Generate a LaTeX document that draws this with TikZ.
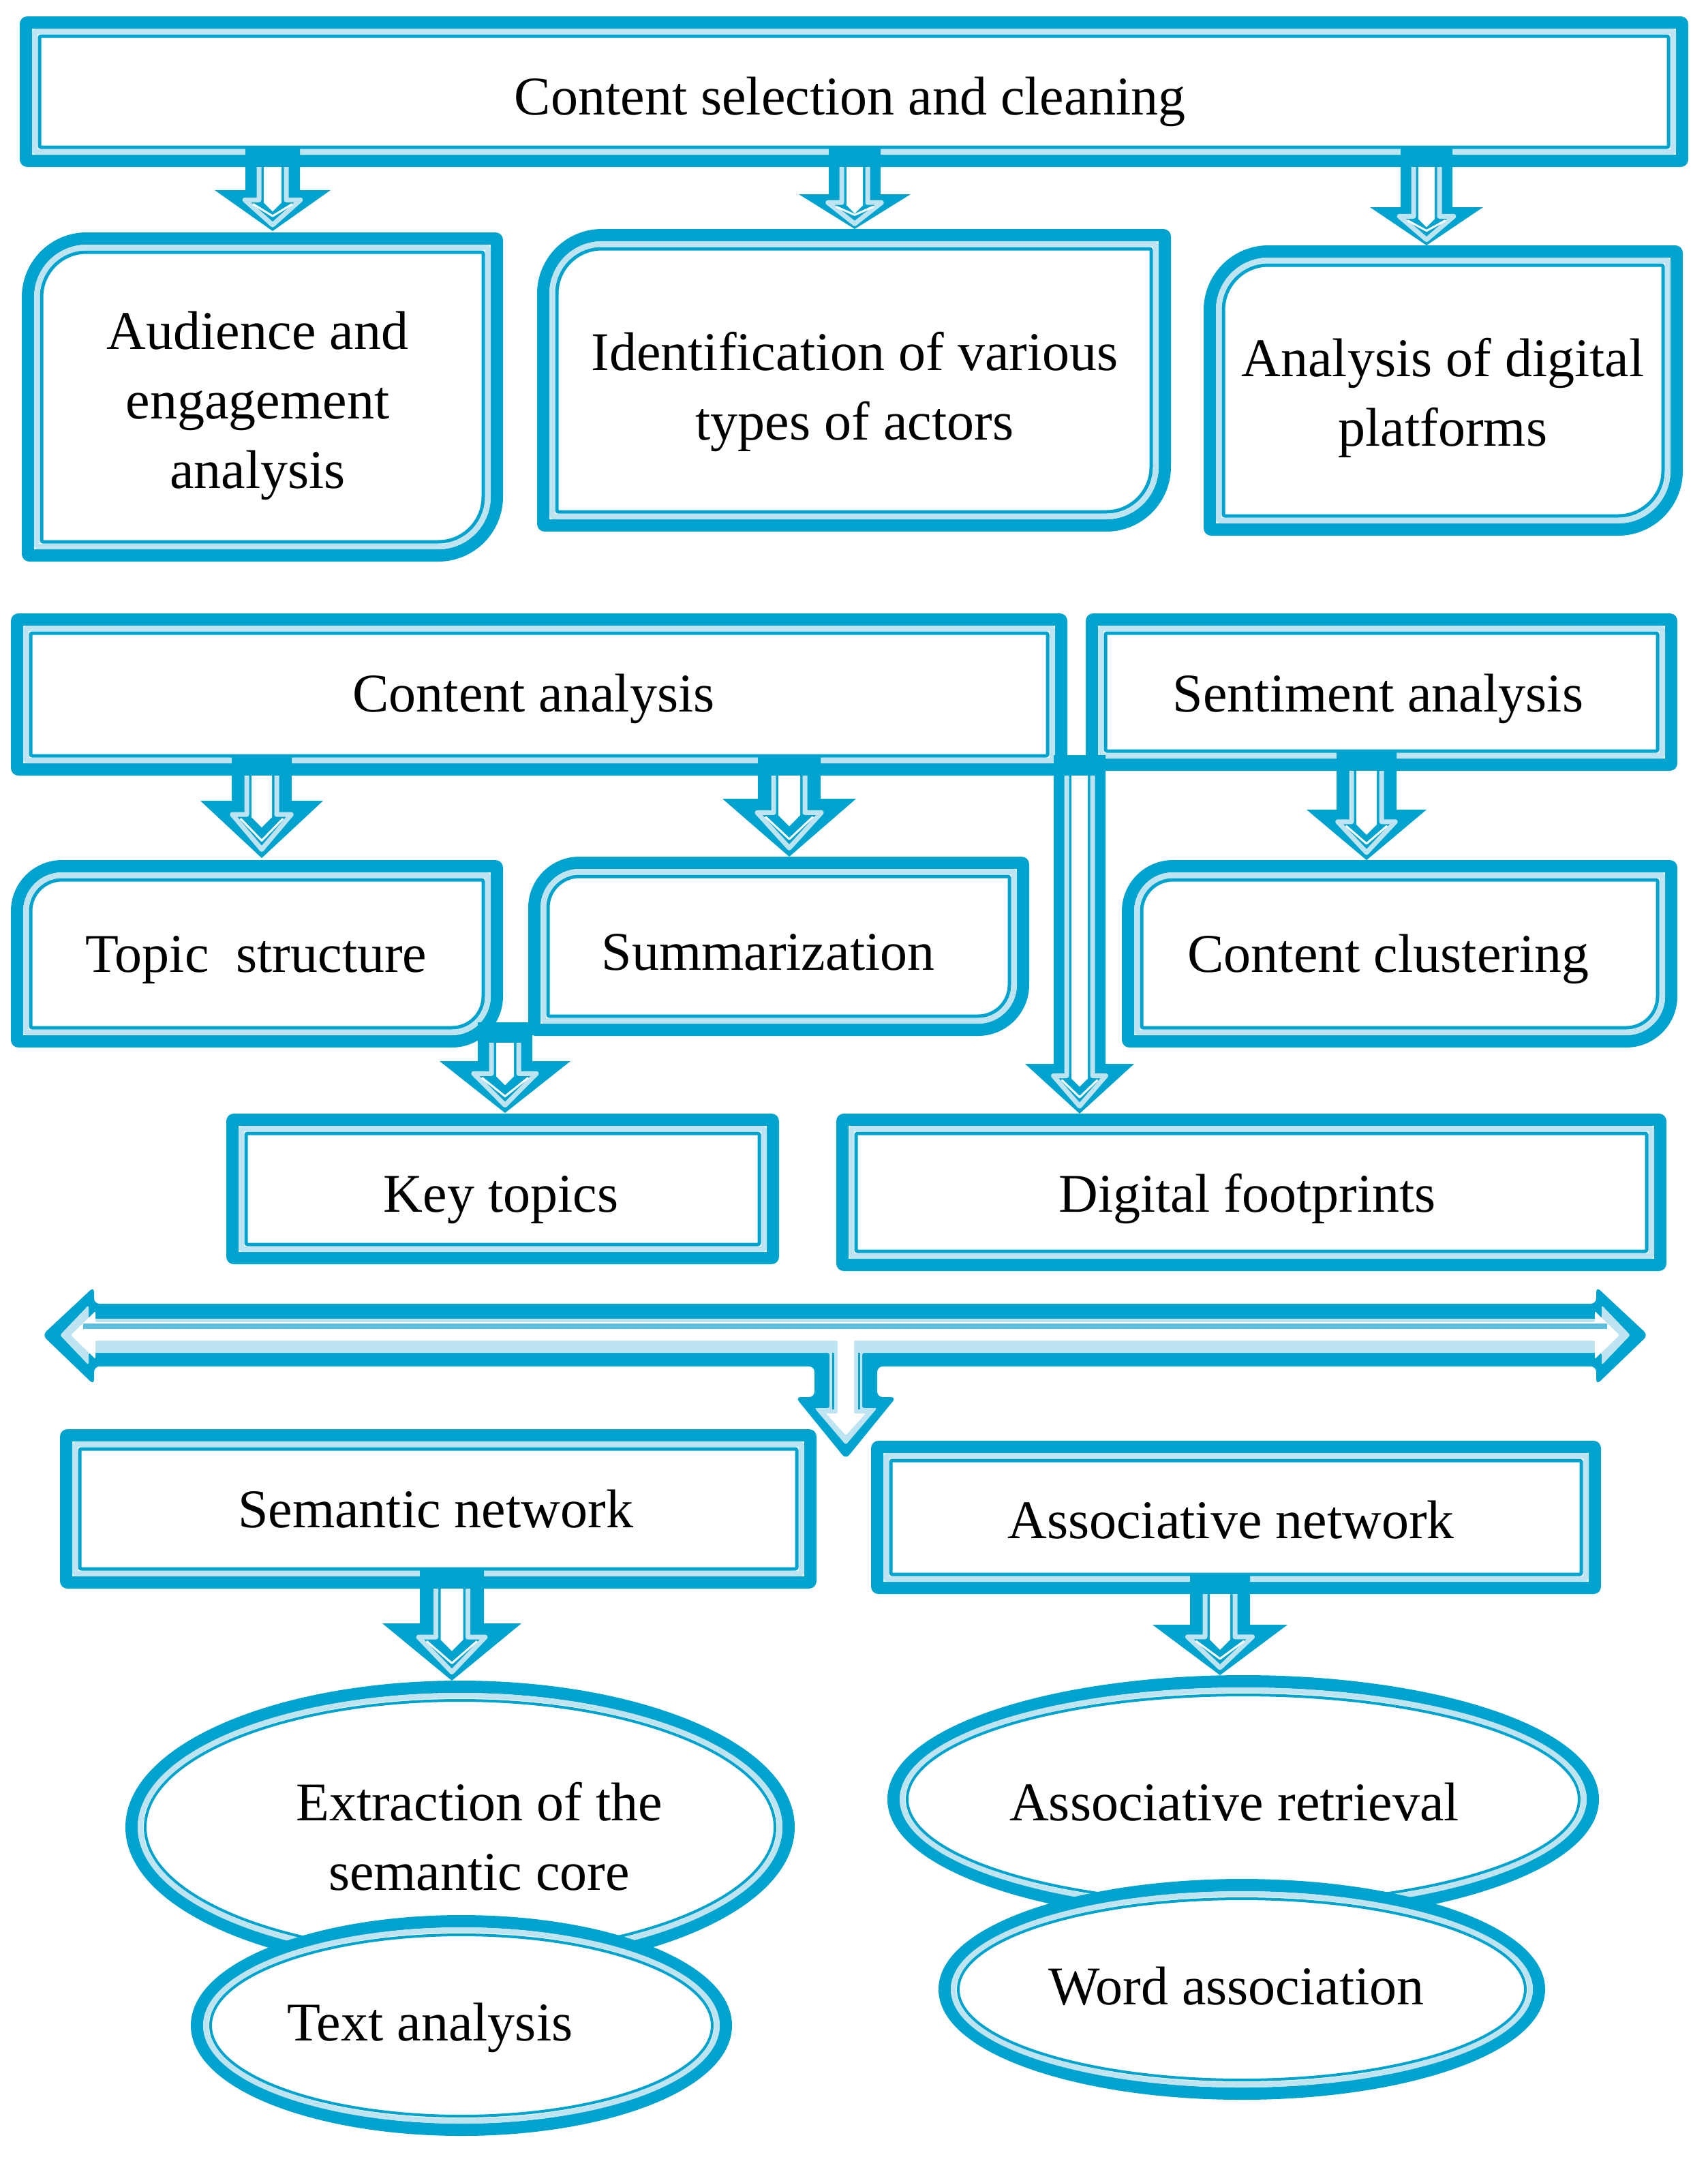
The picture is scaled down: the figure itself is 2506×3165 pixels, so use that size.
\documentclass[tikz,border=0pt]{standalone}
\usepackage{fontspec}
\setmainfont{Liberation Serif}
\definecolor{cB}{RGB}{0,162,206}
\definecolor{cL}{RGB}{190,228,242}
\definecolor{cM}{RGB}{95,190,222}
\newcommand\shp[6]{({#1},{#2+(#5)}) arc[start angle=180,end angle=270,radius={#5}] -- ({#3-(#6)},{#2}) arc[start angle=270,end angle=360,radius={#6}] -- ({#3},{#4-(#5)}) arc[start angle=0,end angle=90,radius={#5}] -- ({#1+(#6)},{#4}) arc[start angle=90,end angle=180,radius={#6}] -- cycle}
\newcommand\tribox[6]{%
 \fill[white] \shp{#1}{#2}{#3}{#4}{#5}{#6};
 \draw[cB, line width=18] \shp{#1+9}{#2+9}{#3-9}{#4-9}{max(#5-9,2)}{max(#6-9,2)};
 \draw[cL, line width=8] \shp{#1+22}{#2+22}{#3-22}{#4-22}{max(#5-22,2)}{max(#6-22,2)};
 \draw[cB, line width=5] \shp{#1+29}{#2+29}{#3-29}{#4-29}{max(#5-29,2)}{max(#6-29,2)};
}
\newcommand\triell[4]{%
 \fill[white] (#1,#2) ellipse[x radius={#3}, y radius={#4}];
 \draw[cB,line width=18] (#1,#2) ellipse[x radius={#3-9}, y radius={#4-9}];
 \draw[cL,line width=8] (#1,#2) ellipse[x radius={#3-22}, y radius={#4-22}];
 \draw[cB,line width=4] (#1,#2) ellipse[x radius={#3-29}, y radius={#4-29}];
}
% block arrow: cx, y start, y head, y tip, stem half width, head half width
\newcommand\barrow[6]{%
 \pgfmathsetmacro\aD{#4-(#3)}%
 \pgfmathsetmacro\aSW{0.5*(#5)}%
 \pgfmathsetmacro\aHW{0.48*(#6)}%
 \pgfmathsetmacro\aYH{#3+0.24*\aD}%
 \pgfmathsetmacro\aYT{#4-0.15*\aD}%
 \pgfmathsetmacro\aWS{\aSW-7}%
 \fill[cB] ({#1-(#5)},{#2}) -- ({#1-(#5)},{#3}) -- ({#1-(#6)},{#3}) -- ({#1},{#4}) -- ({#1+(#6)},{#3}) -- ({#1+(#5)},{#3}) -- ({#1+(#5)},{#2}) -- cycle;
 \draw[cL,line width=7] ({#1-\aSW},{#2+30}) -- ({#1-\aSW},{\aYH}) -- ({#1-\aHW},{\aYH}) -- ({#1},{\aYT}) -- ({#1+\aHW},{\aYH}) -- ({#1+\aSW},{\aYH}) -- ({#1+\aSW},{#2+30});
 \fill[white] ({#1-\aWS},{#2+30}) -- ({#1-\aWS},{\aYH+4}) -- ({#1},{\aYH+4+\aWS}) -- ({#1+\aWS},{\aYH+4}) -- ({#1+\aWS},{#2+30}) -- cycle;
 \draw[white,line width=3] ({#1-\aHW+12},{\aYH+6}) -- ({#1},{\aYT-13}) -- ({#1+\aHW-12},{\aYH+6});
}
\tikzset{txt/.style={font=\fontsize{80}{102}\selectfont, inner sep=0pt, align=center, text=black}}
\begin{document}
\begin{tikzpicture}[x=1pt,y=-1pt,line join=round]
\useasboundingbox (0,0) rectangle (2506,3165);
% boxes
\tribox{29}{24}{2477}{245}{10}{10}
\tribox{32}{341}{738}{824}{95}{8}
\tribox{788}{336}{1718}{780}{95}{8}
\tribox{1766}{360}{2469}{786}{95}{8}
\tribox{16}{900}{1566}{1138}{10}{10}
\tribox{1593}{900}{2461}{1131}{10}{10}
\tribox{16}{1262}{738}{1537}{75}{8}
\tribox{775}{1257}{1510}{1520}{75}{8}
\tribox{1646}{1262}{2461}{1537}{75}{8}
\tribox{332}{1634}{1143}{1855}{10}{10}
\tribox{1227}{1634}{2445}{1865}{10}{10}
\tribox{88}{2097}{1198}{2331}{10}{10}
\tribox{1278}{2114}{2349}{2339}{10}{10}
% ellipses
\triell{675}{2681}{491}{215}
\triell{677}{2972}{397}{162}
\triell{1824}{2640}{522}{182}
\triell{1822}{2919}{445}{162}
% arrows
\barrow{400}{215}{279}{339}{40}{85}
\barrow{1254}{215}{285}{336}{38}{82}
\barrow{2093}{215}{304}{360}{38}{83}
\barrow{384}{1108}{1175}{1259}{44}{90}
\barrow{1158}{1108}{1172}{1257}{46}{98}
\barrow{2005}{1101}{1188}{1262}{44}{88}
\barrow{741}{1500}{1557}{1633}{40}{96}
\barrow{1584}{1108}{1561}{1634}{38}{80}
\barrow{663}{2301}{2382}{2466}{47}{102}
\barrow{1790}{2309}{2384}{2458}{44}{99}
% T-shaped double arrow
\fill[cB, rounded corners=8] (62,1959) -- (138,1888) -- (138,1913) -- (2342,1913) -- (2342,1888) -- (2418,1959) -- (2342,2032) -- (2342,2005) -- (1287,2005) -- (1287,2050) -- (1315,2050) -- (1241,2141) -- (1167,2050) -- (1195,2050) -- (1195,2005) -- (138,2005) -- (138,2032) -- cycle;
\fill[cL, rounded corners=3] (88,1959) -- (130,1915) -- (130,1935) -- (2350,1935) -- (2350,1915) -- (2392,1959) -- (2350,2003) -- (2350,1985) -- (1265,1985) -- (1265,2066) -- (1287,2066) -- (1241,2120) -- (1195,2066) -- (1217,2066) -- (1217,1985) -- (130,1985) -- (130,2003) -- cycle;
\fill[white, rounded corners=2] (104,1959) -- (140,1924) -- (140,1940) -- (2340,1940) -- (2340,1924) -- (2376,1959) -- (2340,1994) -- (2340,1967) -- (1253,1967) -- (1253,2074) -- (1270,2074) -- (1241,2106) -- (1212,2074) -- (1229,2074) -- (1229,1967) -- (140,1967) -- (140,1994) -- cycle;
\draw[cB, line width=3] (1222,1985) -- (1222,2068);
\draw[cB, line width=3] (1260,1985) -- (1260,2068);
\draw[cM, line width=8] (122,1946) -- (2358,1946);
% texts
\node[txt, anchor=base] (cs) at (1247,168) {Content selection and cleaning};
\node[txt] (aud) at (378,595) {Audience and\\engagement\\analysis};
\node[txt] (ident) at (1254,575) {Identification of various\\types of actors};
\node[txt] (plat) at (2117,584) {Analysis of digital\\platforms};
\node[txt, anchor=base] (ca) at (783,1044) {Content analysis};
\node[txt, anchor=base] (sa) at (2022,1044) {Sentiment analysis};
\node[txt, anchor=base] (ts) at (376,1426) {Topic\ \ structure};
\node[txt, anchor=base] (sum) at (1127,1423) {Summarization};
\node[txt, anchor=base] (cc) at (2037,1426) {Content clustering};
\node[txt, anchor=base] (kt) at (735,1778) {Key topics};
\node[txt, anchor=base] (df) at (1830,1778) {Digital footprints};
\node[txt, anchor=base] (sn) at (639,2241) {Semantic network};
\node[txt, anchor=base] (an) at (1806,2257) {Associative network};
\node[txt] (extr) at (703,2695) {Extraction of the\\semantic core};
\node[txt, anchor=base] (ta) at (631,2994) {Text analysis};
\node[txt, anchor=base] (ar) at (1811,2671) {Associative retrieval};
\node[txt, anchor=base] (wa) at (1814,2941) {Word association};
\end{tikzpicture}
\end{document}
